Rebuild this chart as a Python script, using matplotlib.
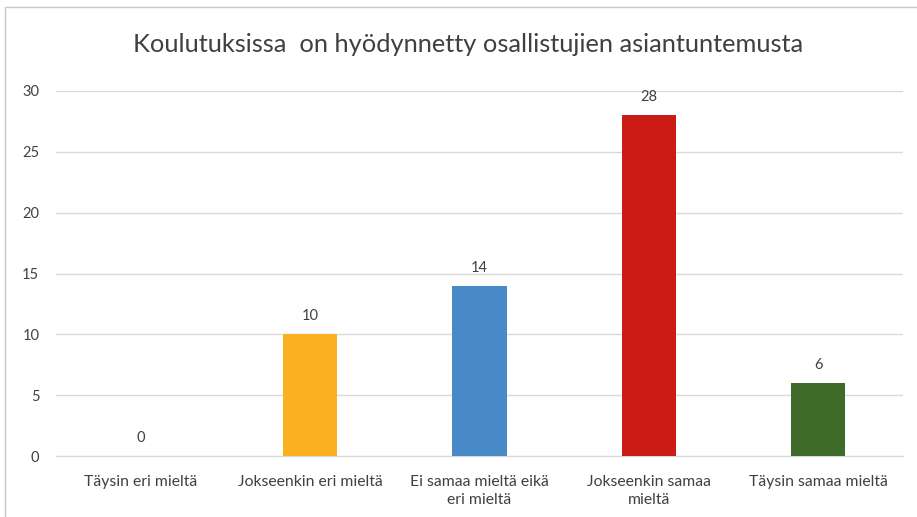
import matplotlib
matplotlib.use("Agg")
import matplotlib.pyplot as plt
from matplotlib.patches import Rectangle

categories = ["Täysin eri mieltä", "Jokseenkin eri mieltä", "Ei samaa mieltä eikä\neri mieltä",
              "Jokseenkin samaa\nmieltä", "Täysin samaa mieltä"]
values = [0, 10, 14, 28, 6]
colors = ["#FBB022", "#FBB022", "#4A89C8", "#CC1A14", "#3F6B28"]
title = "Koulutuksissa  on hyödynnetty osallistujien asiantuntemusta"
yticks = [0, 5, 10, 15, 20, 25, 30]

plt.rcParams['font.family'] = ['Lato', 'DejaVu Sans']

fig = plt.figure(figsize=(9.17, 5.17), dpi=100)
fig.patches.append(Rectangle((5/917, -0.1), 2, 1.1 - 7/517, transform=fig.transFigure,
                             fill=False, edgecolor="#c8c8c8", linewidth=1.0))
ax = fig.add_axes([56/917, 1 - 456/517, (903 - 56)/917, (456 - 91)/517])
x = range(len(categories))
bars = ax.bar(x, values, width=0.32, color=colors, zorder=3)
for xi, v in zip(x, values):
    ax.annotate(str(v), (xi, v), xytext=(0, 8), textcoords="offset points",
                ha="center", va="bottom", fontsize=10.5, color="#404040")
ax.set_ylim(0, 30)
ax.set_xlim(-0.5, len(categories) - 0.5)
ax.set_yticks(yticks)
ax.set_xticks(list(x))
ax.set_xticklabels(categories, fontsize=11.3, color="#404040", multialignment="center",
                   linespacing=1.3)
ax.tick_params(axis="y", labelsize=10.5, colors="#404040", length=0, pad=12)
ax.tick_params(axis="x", length=0, pad=14)
ax.grid(axis="y", color="#d9d9d9", linewidth=1, zorder=0)
for s in ["top", "right", "left"]:
    ax.spines[s].set_visible(False)
ax.spines["bottom"].set_color("#d9d9d9")
fig.text(468/917, 1 - 45/517, title, ha="center", va="center", fontsize=18.3, color="#404040")
fig.savefig("out.png", dpi=100)
